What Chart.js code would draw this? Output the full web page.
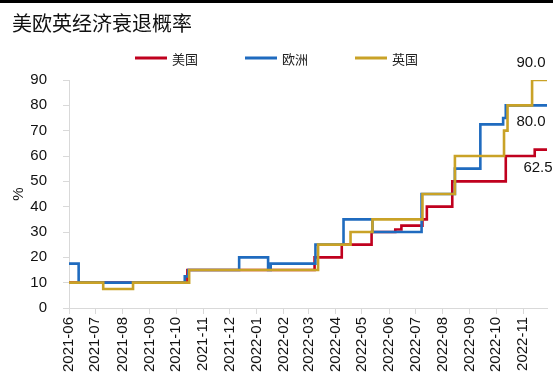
<!DOCTYPE html>
<html>
<head>
<meta charset="utf-8">
<script src="https://cdn.jsdelivr.net/npm/chart.js@4.4.1/dist/chart.umd.min.js"></script>
<style>
  html, body { margin: 0; padding: 0; background: #fff; }
  #wrap { position: relative; width: 553px; height: 374px; }
  #bar { position: absolute; left: 0; top: 0; width: 553px; height: 3px; background: #000; }
  canvas { position: absolute; left: 0; top: 0; }
</style>
</head>
<body>
<div id="wrap">
  <canvas id="c" width="553" height="374"></canvas>
  <div id="bar"></div>
</div>
<script>
// ---- data ----
const chartTitle = '美欧英经济衰退概率';
const seriesNames = ['美国', '欧洲', '英国'];
const seriesColors = ['#C0001E', '#1F6BBF', '#C9A227'];

const startDate = '2021-06-01';
const endDate = '2022-11-28';

const monthTicks = ['2021-06','2021-07','2021-08','2021-09','2021-10','2021-11','2021-12',
  '2022-01','2022-02','2022-03','2022-04','2022-05','2022-06','2022-07','2022-08',
  '2022-09','2022-10','2022-11'];

// change dates and the new value from that date on
const usDates  = ['2021-06-01','2021-10-14','2022-03-08','2022-04-08','2022-05-12','2022-06-08','2022-06-15','2022-07-09','2022-07-14','2022-08-12','2022-10-12','2022-11-14'];
const usValues = [10, 15, 20, 25, 30, 31, 32.5, 35, 40, 50, 60, 62.5];

const euDates  = ['2021-06-01','2021-06-12','2021-10-11','2021-10-15','2021-12-12','2022-01-14','2022-01-17','2022-03-09','2022-04-10','2022-05-13','2022-07-08','2022-08-15','2022-09-13','2022-10-09','2022-10-12'];
const euValues = [17.5, 10, 12.5, 15, 20, 15, 17.5, 25, 35, 30, 45, 55, 72.5, 75, 80];

const ukDates  = ['2021-06-01','2021-07-10','2021-08-13','2021-10-16','2022-03-12','2022-04-18','2022-05-13','2022-07-09','2022-08-15','2022-10-10','2022-10-14','2022-11-11'];
const ukValues = [10, 7.5, 10, 15, 25, 30, 35, 45, 60, 70, 80, 90];

const yTicks = [0, 10, 20, 30, 40, 50, 60, 70, 80, 90];

// ---- helpers ----
function dayOf(s) {
  const [y, m, d] = s.split('-').map(Number);
  const [y0, m0, d0] = startDate.split('-').map(Number);
  return (Date.UTC(y, m - 1, d) - Date.UTC(y0, m0 - 1, d0)) / 86400000;
}
function buildSeries(dates, values) {
  const pts = dates.map((d, i) => ({ x: dayOf(d), y: values[i] }));
  pts.push({ x: dayOf(endDate), y: values[values.length - 1] });
  return pts;
}
const monthDays = monthTicks.map(m => dayOf(m + '-01'));

const datasets = [
  { label: seriesNames[0], data: buildSeries(usDates, usValues), borderColor: seriesColors[0], order: 2 },
  { label: seriesNames[1], data: buildSeries(euDates, euValues), borderColor: seriesColors[1], order: 1 },
  { label: seriesNames[2], data: buildSeries(ukDates, ukValues), borderColor: seriesColors[2], order: 0 }
].map(ds => Object.assign(ds, {
  backgroundColor: ds.borderColor,
  borderWidth: 2.6,
  pointRadius: 0,
  tension: 0,
  stepped: true,
  fill: false,
  borderJoinStyle: 'miter',
  borderCapStyle: 'butt'
}));

// custom legend (short line + label), centred
const lineLegend = {
  id: 'lineLegend',
  afterDraw(chart, args, opts) {
    const ctx = chart.ctx;
    const dsList = chart.data.datasets;
    ctx.save();
    ctx.font = opts.font;
    const widths = dsList.map(d => opts.lineWidth + opts.gap + ctx.measureText(d.label).width);
    const total = widths.reduce((a, b) => a + b, 0) + opts.spacing * (dsList.length - 1);
    let x = (chart.width - total) / 2;
    dsList.forEach((d, i) => {
      ctx.strokeStyle = d.borderColor;
      ctx.lineWidth = 3;
      ctx.beginPath();
      ctx.moveTo(x, opts.y);
      ctx.lineTo(x + opts.lineWidth, opts.y);
      ctx.stroke();
      ctx.fillStyle = opts.color;
      ctx.textAlign = 'left';
      ctx.textBaseline = 'middle';
      ctx.fillText(d.label, x + opts.lineWidth + opts.gap, opts.y + 1);
      x += widths[i] + opts.spacing;
    });
    ctx.restore();
  }
};

// end-value labels, placed from the scales
const endLabels = {
  id: 'endLabels',
  afterDatasetsDraw(chart, args, opts) {
    const ctx = chart.ctx;
    const xs = chart.scales.x, ys = chart.scales.y;
    ctx.save();
    ctx.font = opts.font;
    ctx.fillStyle = opts.color;
    ctx.textAlign = 'center';
    ctx.textBaseline = 'middle';
    chart.data.datasets.forEach((d, i) => {
      const last = d.data[d.data.length - 1];
      const px = xs.getPixelForValue(last.x) + opts.offsets[i][0];
      const py = ys.getPixelForValue(last.y) + opts.offsets[i][1];
      ctx.fillText(last.y.toFixed(1), px, py);
    });
    ctx.restore();
  }
};

const tickFont = { family: '"Liberation Sans", Arial, sans-serif', size: 15 };

new Chart(document.getElementById('c'), {
  type: 'line',
  data: { datasets },
  plugins: [lineLegend, endLabels],
  options: {
    responsive: false,
    animation: false,
    devicePixelRatio: 1,
    layout: { padding: { left: 12, right: 6, top: 0, bottom: 0 } },
    plugins: {
      legend: { display: false },
      tooltip: { enabled: false },
      title: {
        display: true,
        text: chartTitle,
        align: 'start',
        color: '#111',
        font: { family: '"Noto Sans CJK SC", sans-serif', size: 20, weight: 'normal', lineHeight: 1.2 },
        padding: { top: 11, bottom: 45 }
      },
      lineLegend: {
        y: 58, lineWidth: 32, gap: 5, spacing: 47, color: '#222',
        font: '13px "Noto Sans CJK SC", sans-serif'
      },
      endLabels: {
        font: '15px "Liberation Sans", Arial, sans-serif',
        color: '#111',
        offsets: [[-9, 18], [-16, 17], [-16, -17]]
      }
    },
    scales: {
      x: {
        type: 'linear',
        min: 0,
        max: dayOf(endDate),
        afterBuildTicks: (s) => { s.ticks = monthDays.map(v => ({ value: v })); },
        afterFit: (s) => { s.height = 66; },
        ticks: {
          autoSkip: false,
          minRotation: 90,
          maxRotation: 90,
          padding: 3,
          color: '#111',
          font: tickFont,
          callback: (v) => monthTicks[monthDays.indexOf(v)]
        },
        grid: { display: true, drawOnChartArea: false, drawTicks: true, tickLength: 6, color: '#d9d9d9' },
        border: { display: true, color: '#d9d9d9', width: 1 }
      },
      y: {
        min: yTicks[0],
        max: yTicks[yTicks.length - 1],
        afterBuildTicks: (s) => { s.ticks = yTicks.map(v => ({ value: v })); },
        afterFit: (s) => { s.width = 57; },
        ticks: { padding: 16, color: '#111', font: tickFont },
        title: {
          display: true,
          text: '%',
          color: '#111',
          font: { family: '"Liberation Sans", Arial, sans-serif', size: 15 },
          padding: { top: -2, bottom: 0 }
        },
        grid: { display: true, drawOnChartArea: false, drawTicks: true, tickLength: 6, color: '#d9d9d9' },
        border: { display: true, color: '#d9d9d9', width: 1 }
      }
    }
  }
});
</script>
</body>
</html>
